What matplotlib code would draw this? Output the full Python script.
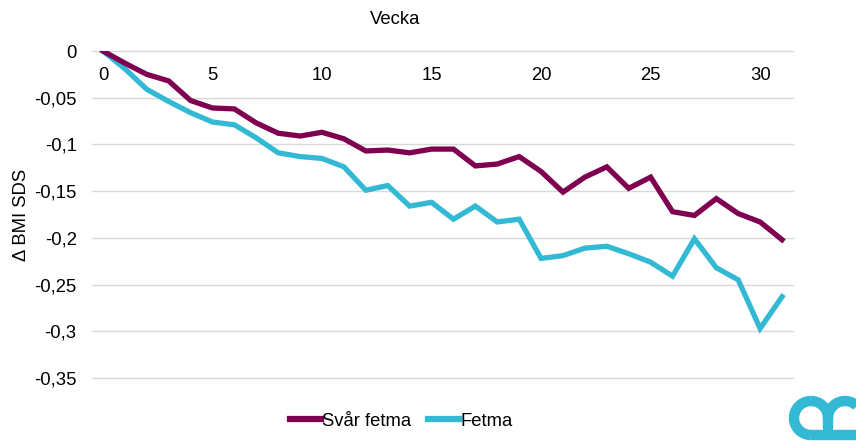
import numpy as np
import matplotlib
matplotlib.use('Agg')
import matplotlib.pyplot as plt
from matplotlib.ticker import FuncFormatter, MultipleLocator

plt.rcParams['font.family'] = ['Liberation Sans', 'DejaVu Sans']

# data
vecka = list(range(32))
svar_fetma = [0, -0.013, -0.025, -0.032, -0.053, -0.061, -0.062, -0.077, -0.088, -0.091,
              -0.087, -0.094, -0.107, -0.106, -0.109, -0.105, -0.105, -0.123, -0.121, -0.113,
              -0.129, -0.151, -0.135, -0.124, -0.147, -0.135, -0.172, -0.176, -0.158, -0.174,
              -0.183, -0.202]
fetma = [0, -0.019, -0.041, -0.054, -0.066, -0.076, -0.079, -0.093, -0.109, -0.113,
         -0.115, -0.124, -0.149, -0.144, -0.166, -0.162, -0.180, -0.166, -0.183, -0.180,
         -0.222, -0.219, -0.211, -0.209, -0.217, -0.226, -0.241, -0.201, -0.232, -0.245,
         -0.297, -0.263]

lila = '#7F0050'
turkos = '#33B9D4'
fs = 13.3

fig = plt.figure(figsize=(8.56, 4.44), dpi=100)
ax = fig.add_axes([92/856, 1 - 378/444, (793 - 92)/856, (378 - 51)/444])

ax.plot(vecka, svar_fetma, color=lila, lw=3.8, label='Svår fetma', solid_joinstyle='miter', zorder=3)
ax.plot(vecka, fetma, color=turkos, lw=3.8, label='Fetma', solid_joinstyle='miter', zorder=2)

ax.set_xlim(-0.5, 31.5)
ax.set_ylim(-0.35, 0)
ax.set_yticks(np.arange(0, -0.36, -0.05))
ax.xaxis.set_major_locator(MultipleLocator(5))
ax.yaxis.set_major_formatter(FuncFormatter(lambda v, p: ('%g' % round(v, 3)).replace('.', ',')))

ax.grid(axis='y', color='#D9D9D9', lw=1)
for gl in ax.get_ygridlines():
    gl.set_clip_on(False)
ax.set_axisbelow(True)
for s in ax.spines.values():
    s.set_visible(False)

ax.tick_params(axis='y', length=0, pad=11, labelsize=fs)
ax.tick_params(axis='x', length=0, labelsize=fs, top=False, bottom=False,
               labeltop=True, labelbottom=False, pad=-24)
ax.set_ylabel('Δ BMI SDS', fontsize=fs, labelpad=3)
ax.text(0.432, 1.095, 'Vecka', transform=ax.transAxes, ha='center', va='center', fontsize=fs)

leg = ax.legend(loc='upper center', bbox_to_anchor=(0.441, -0.055), ncol=2, frameon=False,
                fontsize=fs, handlelength=1.7, handletextpad=0.05, columnspacing=0.9)
for h in leg.get_lines():
    h.set_linewidth(4.5)

# logga nere till höger
lg = fig.add_axes([0, 0, 1, 1], zorder=-1)
lg.set_xlim(0, 856)
lg.set_ylim(444, 0)
lg.axis('off')
t = np.linspace(0, np.pi, 40)
lw_logo = 7.5
tl = np.linspace(np.pi / 2, 3 * np.pi / 2, 40)
lg.plot(811 + 17 * np.cos(tl), 418 - 17 * np.sin(tl), color=turkos, lw=lw_logo, solid_capstyle='butt')
lg.plot([811, 870], [435, 435], color=turkos, lw=lw_logo, solid_capstyle='butt')
tr = np.linspace(0, np.pi / 2, 30)
lg.plot(811 + 17 * np.cos(tr), 418 - 17 * np.sin(tr), color=turkos, lw=lw_logo, solid_capstyle='butt')
lg.plot([828, 828], [418, 428], color=turkos, lw=lw_logo, solid_capstyle='round')
lg.plot(845 - 17 * np.cos(t), 418 - 17 * np.sin(t), color=turkos, lw=lw_logo, solid_capstyle='butt')

fig.savefig('out.png', dpi=100)
